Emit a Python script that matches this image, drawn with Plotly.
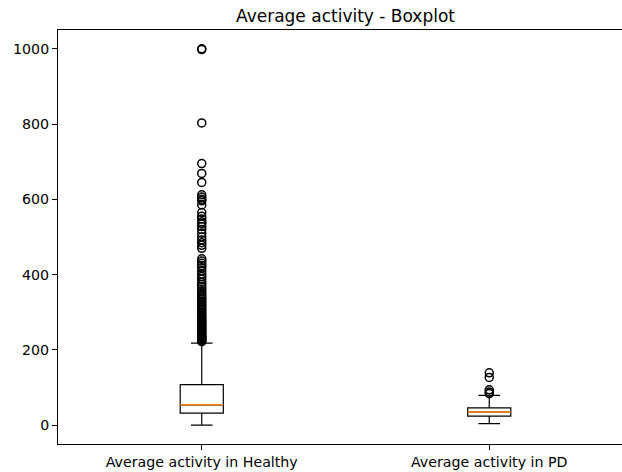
import plotly.graph_objects as go

# Group labels and box positions
categories = ["Average activity in Healthy", "Average activity in PD"]
positions = [1, 2]

# Box statistics per group
q1 = [32, 24]
median = [54, 35]
q3 = [108, 46]
lower_whisker = [0, 4]
upper_whisker = [218, 79]

# Points beyond the whiskers
healthy_outliers = [
    1000, 998, 803, 695, 669, 645, 612, 606, 600, 596, 585, 565, 555, 548,
    540, 535, 528, 520, 510, 500, 492, 485, 478, 470, 442, 436, 430, 424,
    418, 410, 402, 395, 388, 380, 374, 368, 362, 356, 350, 345, 340, 335,
    330, 325, 320, 316, 312, 308, 304, 300, 296, 292, 288, 284, 280, 277,
    274, 271, 268, 265, 262, 259, 256, 253, 250, 247, 244, 241, 238, 236,
    234, 232, 230, 228, 226, 224, 222,
]
pd_outliers = [139, 127, 94, 88, 84]

box_width = 0.15
median_color = "#ff7f0e"

fig = go.Figure()

for i in range(len(categories)):
    fig.add_trace(go.Box(
        x=[positions[i]],
        q1=[q1[i]], median=[median[i]], q3=[q3[i]],
        lowerfence=[lower_whisker[i]], upperfence=[upper_whisker[i]],
        width=box_width, whiskerwidth=0.5,
        boxpoints=False,
        fillcolor="rgba(0,0,0,0)",
        line=dict(color="black", width=1.2),
        showlegend=False,
        hoverinfo="skip",
    ))
    # orange median line drawn over the box
    fig.add_trace(go.Scatter(
        x=[positions[i] - box_width / 2, positions[i] + box_width / 2],
        y=[median[i], median[i]],
        mode="lines",
        line=dict(color=median_color, width=1.5),
        showlegend=False,
        hoverinfo="skip",
    ))

for pos, pts in zip(positions, [healthy_outliers, pd_outliers]):
    fig.add_trace(go.Scatter(
        x=[pos] * len(pts), y=pts,
        mode="markers",
        marker=dict(symbol="circle-open", size=8, color="black",
                    line=dict(width=1.5, color="black")),
        showlegend=False,
        hoverinfo="skip",
    ))

fig.update_layout(
    width=622, height=472,
    margin=dict(l=58, r=0, t=30, b=28),
    paper_bgcolor="white", plot_bgcolor="white",
    font=dict(family="DejaVu Sans", size=14.2, color="black"),
    title=dict(text="Average activity - Boxplot", x=0.5098, xref="paper",
               xanchor="center", y=1 - 16 / 472, yanchor="middle",
               font=dict(family="DejaVu Sans", size=17, color="black")),
    xaxis=dict(
        range=[0.5, 0.5 + 564 / 287.5],
        tickvals=positions, ticktext=categories,
        showline=True, linecolor="black", linewidth=1, mirror=True,
        ticks="outside", ticklen=5, tickcolor="black", tickwidth=1,
        showgrid=False, zeroline=False,
    ),
    yaxis=dict(
        range=[-50, 1050],
        tickvals=[0, 200, 400, 600, 800, 1000],
        showline=True, linecolor="black", linewidth=1,
        ticks="outside", ticklen=5, tickcolor="black", tickwidth=1,
        showgrid=False, zeroline=False,
    ),
)

fig.write_html("out.html")
